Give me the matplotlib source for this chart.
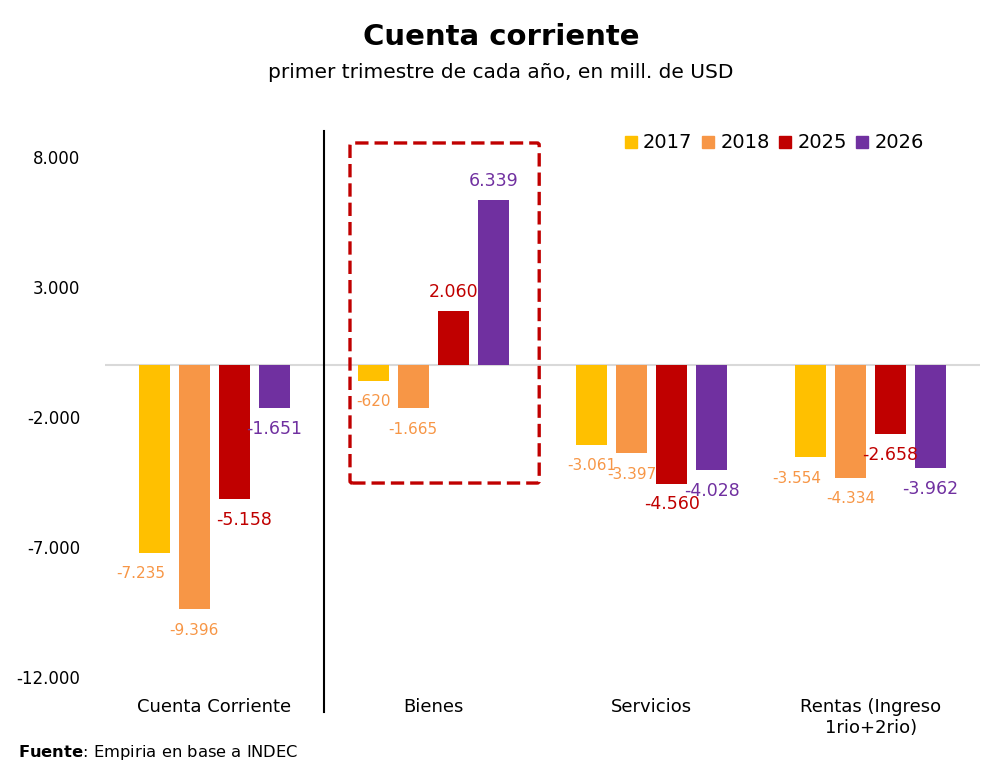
import numpy as np
import matplotlib.pyplot as plt
from matplotlib.lines import Line2D
from matplotlib.patches import FancyBboxPatch
from matplotlib.ticker import FuncFormatter

# data (mill. USD)
categories = ["Cuenta Corriente", "Bienes", "Servicios", "Rentas (Ingreso\n1rio+2rio)"]
years = ["2017", "2018", "2025", "2026"]
v2017 = [-7235, -620, -3061, -3554]
v2018 = [-9396, -1665, -3397, -4334]
v2025 = [-5158, 2060, -4560, -2658]
v2026 = [-1651, 6339, -4028, -3962]
yticks = [8000, 3000, -2000, -7000, -12000]

series = [v2017, v2018, v2025, v2026]
bar_colors = ["#FFC000", "#F79646", "#C00000", "#7030A0"]
label_colors = ["#F79646", "#F79646", "#C00000", "#7030A0"]
label_sizes = [11, 11, 12.5, 12.5]

# small nudges (points) for labels Excel placed out of line
nudges = {(0, 0): (-10, 0), (2, 0): (7, 0), (0, 3): (-10, 0)}


def thousands(v, pos=None):
    s = f"{abs(int(round(v))):,}".replace(",", ".")
    return "-" + s if v < 0 else s


fig = plt.figure(figsize=(10.02, 7.73), dpi=100)
ax = fig.add_axes([0.1048, 0.1074, 0.978 - 0.1048, 0.8305 - 0.1074])

x = np.arange(len(categories))
step = 0.183
width = 0.142

for i, vals in enumerate(series):
    off = (i - 1.5) * step
    bars = ax.bar(x + off, vals, width=width, color=bar_colors[i], zorder=2,
                  label=years[i])
    for j, (b, v) in enumerate(zip(bars, vals)):
        dx, dy = nudges.get((i, j), (0, 0))
        oy = 14 if v > 0 else -15
        ax.annotate(thousands(v), (b.get_x() + b.get_width() / 2, v),
                    xytext=(dx, oy + dy), textcoords="offset points",
                    ha="center", va="center", fontsize=label_sizes[i],
                    color=label_colors[i], zorder=4)

ax.axhline(0, color="#D9D9D9", lw=1.5, zorder=1)

ax.set_xlim(-0.5, 3.5)
ax.set_ylim(-12500, 9000)
ax.set_yticks(yticks)
ax.yaxis.set_major_formatter(FuncFormatter(thousands))
ax.set_xticks(x)
ax.set_xticklabels(categories, fontsize=13)
ax.tick_params(axis="y", length=0, labelsize=12, pad=18)
ax.tick_params(axis="x", length=0, pad=6)
for s in ax.spines.values():
    s.set_visible(False)

# separator between total and components
ax.axvline(0.5, ymin=-0.04, ymax=1.0, color="black", lw=1.5, clip_on=False)

# dashed box highlighting Bienes
box = FancyBboxPatch((0.62, -4540), 0.865, 13080,
                     boxstyle="round,pad=0,rounding_size=0.01",
                     fill=False, edgecolor="#C00000", lw=2.4,
                     linestyle=(0, (4, 1.8)), zorder=3, mutation_aspect=8000)
ax.add_patch(box)

handles = [Line2D([], [], marker="s", ls="", markersize=9, color=c) for c in bar_colors]
fig.legend(handles, years, loc="center right", bbox_to_anchor=(924 / 1002, 1 - 143 / 773),
           ncol=4, frameon=False, fontsize=14, handlelength=0.7, handletextpad=0.28,
           columnspacing=0.45, borderpad=0, borderaxespad=0)

fig.text(0.5, 1 - 37 / 773, "Cuenta corriente", ha="center", va="center",
         fontsize=21, fontweight="bold")
fig.text(0.5, 1 - 72 / 773, "primer trimestre de cada año, en mill. de USD",
         ha="center", va="center", fontsize=14.5)

fig.text(18 / 1002, 1 - 752 / 773, r"$\bf{Fuente}$: Empiria en base a INDEC",
         ha="left", va="center", fontsize=11.8)

fig.savefig("out.png", dpi=100)
